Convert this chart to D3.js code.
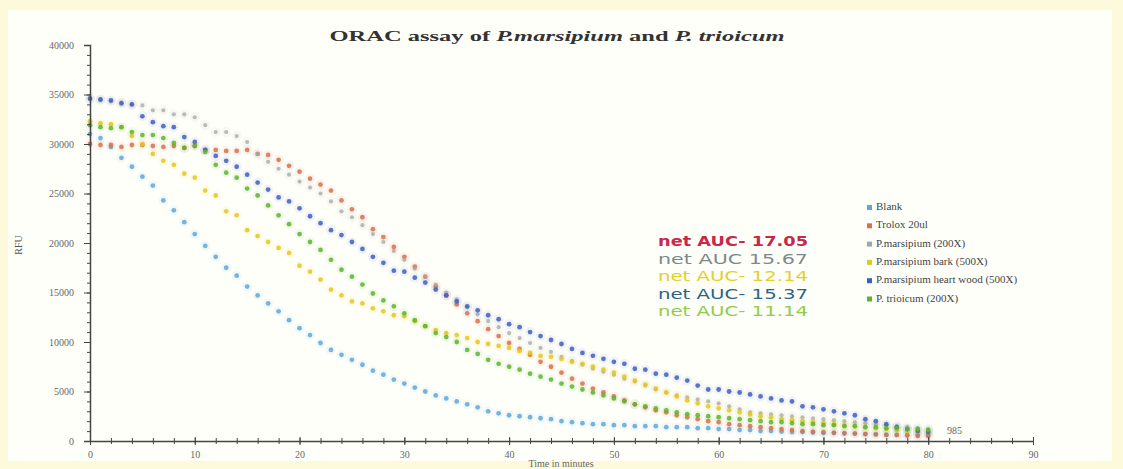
<!DOCTYPE html>
<html><head><meta charset="utf-8">
<script src="https://cdn.jsdelivr.net/npm/d3@7"></script>
<style>
html,body{margin:0;padding:0;background:#fdfadb;}
svg{display:block;}
</style></head>
<body>
<svg id="chart" width="1123" height="469"></svg>
<script>
// ---- data (time in minutes 0..80, fluorescence) ----
const times = d3.range(0, 81);
const blank = [31000,30600,29700,28600,27700,26700,25800,24300,23300,22100,
  20900,19700,18600,17500,16700,15600,14700,13900,13100,12200,
  11400,10700,9900,9200,8700,8200,7700,7100,6700,6200,
  5800,5400,5000,4600,4300,4000,3700,3400,3000,2800,
  2600,2500,2400,2300,2200,2000,1900,1800,1700,1700,
  1600,1600,1500,1500,1500,1400,1400,1400,1300,1300,
  1200,1200,1100,1100,1000,1000,950,900,900,850,
  800,800,750,750,700,700,650,650,600,600,600];
const trolox = [30000,29900,29900,29700,29900,29900,29800,29700,29800,29600,
  29800,29400,29400,29300,29300,29400,29000,28900,28400,27800,
  27200,26500,25900,25300,24300,23400,22600,21400,20600,19600,
  18600,17600,16600,15600,14700,13800,12900,12100,11300,10600,
  9900,9300,8700,8000,7500,6900,6300,5800,5300,4900,
  4500,4100,3700,3400,3100,2900,2600,2400,2200,2000,
  1900,1700,1600,1500,1400,1300,1200,1100,1000,950,
  900,850,800,750,700,650,600,600,550,500,500];
const marsipium = [34500,34400,34300,34200,34000,33900,33400,33400,33000,33000,
  32700,31900,31200,31200,30800,30200,29000,28200,27500,26900,
  26200,25600,25000,24200,23200,22600,21800,20900,20100,19200,
  18300,17400,16600,15800,15000,14300,13500,12800,12100,11500,
  10900,10400,9900,9400,9000,8500,8100,7700,7300,7000,
  6700,6300,6000,5600,5200,4900,4600,4400,4200,4000,
  3800,3500,3200,2900,2800,2700,2600,2500,2400,2300,
  2200,2100,2000,1900,1800,1700,1600,1500,1400,1300,1200];
const bark = [32300,32100,32000,31700,30800,30000,29000,28300,27900,27000,
  26600,25300,24800,23200,22800,21300,20700,20100,19500,19000,
  17700,17100,16300,15300,14700,14100,13900,13400,13100,12700,
  12600,12100,11600,11200,10900,10700,10400,10000,9800,9600,
  9400,9100,8900,8600,8500,8300,8000,7800,7500,7200,
  6900,6500,6100,5700,5300,4900,4500,4100,3800,3500,
  3300,3100,2900,2700,2500,2400,2200,2100,2000,1900,
  1800,1700,1600,1500,1400,1300,1200,1100,1000,950,900];
const heartwood = [34600,34500,34400,34100,34000,32800,32200,31800,31700,30700,
  30200,29400,28800,28300,27700,26900,26100,25400,24600,24200,
  23500,22700,22000,21300,20800,20100,19400,18600,18000,17200,
  17100,16500,16000,15300,14700,14100,13600,13200,12700,12300,
  11800,11500,11000,10600,10200,9800,9300,8900,8600,8300,
  8000,7800,7300,7200,6800,6700,6400,6100,5600,5200,
  5200,5000,4900,4700,4500,4300,4100,4000,3500,3400,
  3200,3000,2800,2600,2200,2000,1700,1400,1200,1000,900];
const trioicum = [31900,31700,31600,31700,31200,30900,30900,30600,30100,29600,
  29800,29200,27900,27100,26600,25500,24800,23800,22800,21900,
  20900,20100,19300,18300,17300,16600,15800,14900,14200,13600,
  12900,12200,11600,10900,10500,10000,9200,8800,8200,7800,
  7500,7200,6800,6500,6200,5800,5500,5200,4900,4600,
  4300,4000,3700,3500,3300,3100,2900,2700,2600,2500,
  2400,2300,2200,2100,2000,1900,1900,1800,1700,1700,
  1600,1600,1500,1500,1400,1400,1300,1300,1200,1200,1100];

const seriesNames = ["Blank","Trolox 20ul","P.marsipium (200X)","P.marsipium bark (500X)","P.marsipium heart wood (500X)","P. trioicum (200X)"];
const seriesColors = ["#5ea8d8","#d8704e","#a6a6a6","#e4c81e","#3d5fbf","#5cb530"];
const seriesValues = [blank, trolox, marsipium, bark, heartwood, trioicum];

const aucLabels = ["net AUC- 17.05","net AUC  15.67","net AUC- 12.14","net AUC- 15.37","net AUC- 11.14"];
const aucColors = ["#c8284a","#7c8a8c","#e2cf2a","#2d6486","#8fcc4a"];

const xTicks = [0,10,20,30,40,50,60,70,80,90];
const yTicks = [0,5000,10000,15000,20000,25000,30000,35000,40000];

// ---- drawing ----
const svg = d3.select("#chart");
svg.append("rect").attr("x",8).attr("y",10).attr("width",1104).attr("height",451).attr("fill","#fffffa");

const x = d3.scaleLinear().domain([0,90]).range([90,1033]);
const y = d3.scaleLinear().domain([0,40000]).range([441,45]);

// title
const title = svg.append("text").attr("x",557).attr("y",41).attr("text-anchor","middle")
  .attr("font-family","Liberation Serif").attr("font-size",15).attr("font-weight","bold").attr("fill","#333")
  .attr("textLength",455).attr("lengthAdjust","spacingAndGlyphs");
title.append("tspan").text("ORAC assay of ");
title.append("tspan").attr("font-style","italic").text("P.marsipium");
title.append("tspan").text(" and ");
title.append("tspan").attr("font-style","italic").text("P. trioicum");

// points
seriesValues.forEach((vals,i)=>{
  const g = svg.append("g");
  const pts = vals.map((v,k)=>[times[k],v]);
  g.selectAll("circle.h").data(pts).join("circle")
    .attr("cx",d=>x(d[0])).attr("cy",d=>y(d[1])).attr("r",5)
    .attr("fill",seriesColors[i]).attr("opacity",0.08);
  g.selectAll("circle.p").data(pts).join("circle")
    .attr("cx",d=>x(d[0])).attr("cy",d=>y(d[1])).attr("r", i===2 ? 2.1 : 2.4)
    .attr("fill",seriesColors[i]).attr("opacity",i===2 ? 0.75 : 0.85);
});

// axes
const axisStyle = g => {
  g.selectAll("path,line").attr("stroke","#444");
  g.selectAll("text").attr("font-family","Liberation Serif").attr("font-size",10).attr("fill","#666");
};
svg.append("g").attr("transform","translate(90,0)")
  .call(d3.axisLeft(y).tickValues(d3.range(0,40001,1000)).tickSize(3).tickFormat(""))
  .call(g=>g.select(".domain").remove()).call(axisStyle);
svg.append("g").attr("transform","translate(90,0)")
  .call(d3.axisLeft(y).tickValues(yTicks).tickSize(6).tickPadding(10).tickFormat(d3.format("d")))
  .call(axisStyle).call(g=>g.select(".domain").attr("stroke-width",1.5));
svg.append("g").attr("transform","translate(0,441)")
  .call(d3.axisBottom(x).tickValues(d3.range(0,91,2)).tickSizeInner(3).tickSizeOuter(0).tickFormat(""))
  .call(g=>g.select(".domain").remove()).call(axisStyle)
  .call(g=>g.selectAll(".tick line").attr("y1",-3));
svg.append("g").attr("transform","translate(0,441)")
  .call(d3.axisBottom(x).tickValues(xTicks).tickSizeInner(4).tickSizeOuter(0).tickPadding(6))
  .call(axisStyle).call(g=>g.select(".domain").attr("stroke-width",1.5))
  .call(g=>g.selectAll(".tick line").attr("y1",-4));

// axis titles
svg.append("text").attr("x",561).attr("y",467).attr("text-anchor","middle")
  .attr("font-family","Liberation Serif").attr("font-size",10).attr("fill","#666").text("Time in minutes");
svg.append("text").attr("transform","translate(22,245) rotate(-90)").attr("text-anchor","middle")
  .attr("font-family","Liberation Serif").attr("font-size",10).attr("fill","#555").text("RFU");

svg.append("text").attr("x",947).attr("y",434).attr("font-family","Liberation Serif")
  .attr("font-size",10).attr("fill","#666").text("985");

// net AUC labels
aucLabels.forEach((t,i)=>{
  svg.append("text").attr("x",658).attr("y",246+i*17.5)
    .attr("font-family","DejaVu Sans").attr("font-size",14)
    .attr("font-weight", i===0 ? "bold" : "normal")
    .attr("fill",aucColors[i]).attr("textLength",150).attr("lengthAdjust","spacingAndGlyphs")
    .text(t);
});

// legend
const lg = svg.append("g");
seriesNames.forEach((n,i)=>{
  const yy = 210 + i*18.3;
  lg.append("rect").attr("x",867).attr("y",yy-5).attr("width",5).attr("height",5).attr("fill",seriesColors[i]);
  lg.append("text").attr("x",876).attr("y",yy).attr("font-family","Liberation Serif")
    .attr("font-size",11).attr("fill","#444").text(n);
});
</script>
</body></html>
